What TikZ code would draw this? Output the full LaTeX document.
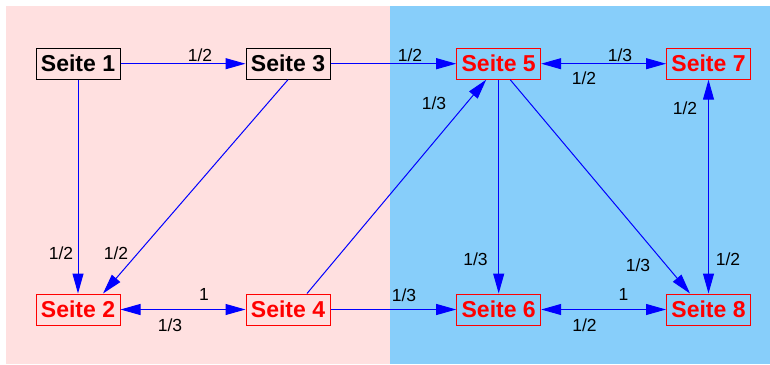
\documentclass[tikz,border=0pt]{standalone}
\usepackage{fontspec}
\setmainfont{Liberation Sans}
\usetikzlibrary{arrows.meta}
\definecolor{bgpink}{RGB}{255,224,224}
\definecolor{bgblue}{RGB}{135,206,250}
\begin{document}
\begin{tikzpicture}[x=1pt,y=-1pt,
  page/.style={draw, line width=1pt, minimum width=84pt, minimum height=31pt, inner sep=0pt,
               font=\fontsize{23}{23}\selectfont\bfseries},
  blackpage/.style={page, draw=black, text=black},
  redpage/.style={page, draw=red, text=red},
  tip/.tip={Triangle[length=20pt,width=11pt]},
  link/.style={draw=blue, line width=1pt, -tip},
  both/.style={draw=blue, line width=1pt, tip-tip},
  lbl/.style={font=\fontsize{17.5}{17.5}\selectfont, inner sep=0pt, text=black}]
\useasboundingbox (0,0) rectangle (770,364);
\fill[bgpink] (6,6) rectangle (390,364);
\fill[bgblue] (390,6) rectangle (770,364);

\node[blackpage] (s1) at (78,63.7) {Seite 1};
\node[blackpage] (s3) at (288,63.7) {Seite 3};
\node[redpage] (s5) at (498.7,63.7) {Seite 5};
\node[redpage] (s7) at (708.5,63.7) {Seite 7};
\node[redpage] (s2) at (78,309.5) {Seite 2};
\node[redpage] (s4) at (288,309.5) {Seite 4};
\node[redpage] (s6) at (498.7,309.5) {Seite 6};
\node[redpage] (s8) at (708.5,309.5) {Seite 8};

\draw[link] (s1.east) -- (s3.west);
\draw[link] (s3.east) -- (s5.west);
\draw[both] (s5.east) -- (s7.west);
\draw[both] (s7.south) -- (s8.north);
\draw[link] (s1.south) -- (s2.north);
\draw[link] (s3.south) -- ([xshift=25pt]s2.north);
\draw[link] ([xshift=19pt]s4.north) -- ([xshift=-12.5pt]s5.south);
\draw[link] (s4.east) -- (s6.west);
\draw[link] (s5.south) -- (s6.north);
\draw[link] ([xshift=11.5pt]s5.south) -- ([xshift=-18.5pt]s8.north);
\draw[both] (s2.east) -- (s4.west);
\draw[both] (s6.east) -- (s8.west);

\node[lbl] (l13) at (200,55.5) {1/2};
\node[lbl] (l35) at (410,55) {1/2};
\node[lbl] (l57) at (620,55) {1/3};
\node[lbl] (l75) at (584,78) {1/2};
\node[lbl] (l87) at (685,108) {1/2};
\node[lbl] (l78) at (728,259) {1/2};
\node[lbl] (l12) at (61,253) {1/2};
\node[lbl] (l32) at (116,253) {1/2};
\node[lbl] (l24) at (204,294.5) {1};
\node[lbl] (l42) at (170,325) {1/3};
\node[lbl] (l45) at (434,103) {1/3};
\node[lbl] (l46) at (404,295) {1/3};
\node[lbl] (l56) at (475.5,259) {1/3};
\node[lbl] (l58) at (638,265) {1/3};
\node[lbl] (l68) at (623.5,294.5) {1};
\node[lbl] (l86) at (584.5,325) {1/2};
\end{tikzpicture}
\end{document}
